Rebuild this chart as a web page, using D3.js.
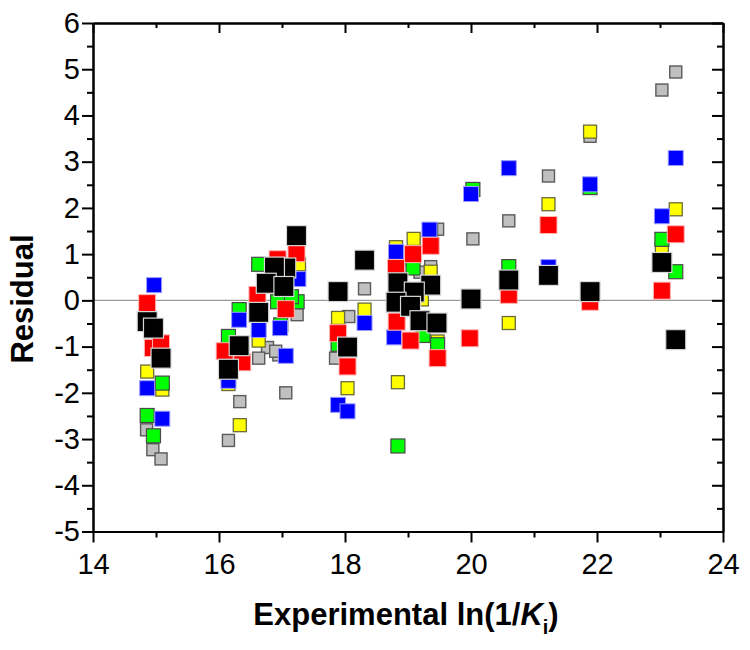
<!DOCTYPE html>
<html>
<head>
<meta charset="utf-8">
<script src="https://cdn.jsdelivr.net/npm/d3@7"></script>
<style>
  html, body { margin: 0; padding: 0; background: #fff; }
  svg { display: block; }
</style>
</head>
<body>
<svg id="chart" width="750" height="650"></svg>
<script>
// ---- Data ----
const xTicks = [14, 16, 18, 20, 22, 24];
const yTicks = [-5, -4, -3, -2, -1, 0, 1, 2, 3, 4, 5, 6];

const grayPoints = [
  [14.85, -2.80], [14.95, -3.23], [15.08, -3.43],
  [17.24, -0.31], [16.77, -1.02], [16.95, -1.18], [16.63, -1.25], [17.06, -2.00],
  [16.33, -2.19], [16.15, -3.03], [16.90, -1.10],
  [18.31, 0.25], [18.06, -0.35], [17.85, -1.25],
  [19.47, 1.54], [19.19, 0.61], [19.36, 0.73],
  [20.03, 1.33], [20.60, 1.72], [21.23, 2.69], [21.89, 3.55], [23.03, 4.55], [23.25, 4.94]
];
const yellowPoints = [
  [14.86, -1.54], [15.10, -1.93],
  [17.27, 0.78], [16.63, -0.87], [16.15, -1.81], [16.33, -2.70],
  [18.31, -0.20], [17.89, -0.38], [18.04, -1.90],
  [19.09, 1.33], [18.81, 1.15], [19.36, 0.62], [19.47, -0.89], [18.84, -1.77], [19.22, 0.02],
  [20.60, -0.49], [21.23, 2.08], [21.89, 3.65], [23.03, 1.10], [23.25, 1.97]
];
const greenPoints = [
  [15.10, -1.79], [14.86, -2.49], [14.96, -2.93],
  [16.63, 0.78], [17.24, -0.03], [16.93, -0.03], [16.32, -0.20], [16.98, -0.53], [16.15, -0.78], [17.15, 0.08],
  [17.89, -0.95],
  [19.36, 1.51], [18.84, 0.90], [19.08, 0.70], [19.24, -0.76], [19.47, -0.96], [18.84, -3.15],
  [20.03, 2.40], [20.60, 0.73], [21.89, 2.44], [23.03, 1.32], [23.25, 0.62]
];
const bluePoints = [
  [14.97, 0.33], [14.86, -1.90], [15.10, -2.56],
  [17.26, 0.46], [16.32, -0.42], [16.97, -0.60], [16.63, -0.64], [17.06, -1.20], [16.15, -1.74],
  [18.31, -0.49], [17.89, -2.26], [18.04, -2.40],
  [19.34, 1.53], [18.81, 1.05], [18.78, -0.80],
  [20.00, 2.30], [20.60, 2.86], [21.23, 0.72], [21.89, 2.51], [23.03, 1.82], [23.25, 3.08]
];
const redPoints = [
  [14.86, -0.06], [14.95, -1.03], [15.08, -0.93],
  [17.23, 1.02], [16.93, 0.89], [16.61, 0.12], [17.06, -0.19], [16.09, -1.10], [16.37, -1.34],
  [17.89, -0.71], [18.04, -1.43],
  [19.36, 1.18], [19.08, 1.00], [18.81, 0.70], [18.82, -0.46], [19.04, -0.87], [19.47, -1.25],
  [19.98, -0.82], [20.60, 0.12], [21.23, 1.63], [21.89, -0.03], [23.03, 0.21], [23.25, 1.43]
];
const blackPoints = [
  [14.86, -0.46], [14.96, -0.60], [15.08, -1.25],
  [17.23, 1.40], [17.06, 0.70], [16.88, 0.72], [16.75, 0.37], [17.03, 0.30], [16.63, -0.26], [16.32, -0.98], [16.15, -1.49],
  [18.31, 0.87], [17.89, 0.19], [18.04, -1.01],
  [18.84, 0.38], [19.36, 0.33], [19.10, 0.18], [18.81, -0.04], [19.04, -0.13], [19.19, -0.44], [19.46, -0.49],
  [20.00, 0.03], [20.60, 0.44], [21.23, 0.54], [21.89, 0.19], [23.03, 0.82], [23.25, -0.85]
];

// ---- Layout ----
const svg = d3.select("#chart");
const plotL = 93, plotR = 723, plotT = 23, plotB = 531.5;
const x = d3.scaleLinear().domain([14, 24]).range([plotL, plotR]);
const y = d3.scaleLinear().domain([-5, 6]).range([plotB, plotT]);
const FONT = "'Liberation Sans', Arial, sans-serif";

svg.append("rect").attr("width", 750).attr("height", 650).attr("fill", "#fff");

// zero line
svg.append("line")
  .attr("x1", plotL).attr("x2", plotR)
  .attr("y1", y(0)).attr("y2", y(0))
  .attr("stroke", "#9a9a9a").attr("stroke-width", 1.2);

// ---- Points ----
const seriesStyles = [
  { data: grayPoints,   size: 12, fill: "#c0c0c0", stroke: "#5a5a5a", sw: 1.4 },
  { data: yellowPoints, size: 13, fill: "#ffff00", stroke: "#6b6b3a", sw: 1.3 },
  { data: greenPoints,  size: 14, fill: "#00ff00", stroke: "#4a4a4a", sw: 1.2 },
  { data: bluePoints,   size: 15, fill: "#0000ff", stroke: "#9a9aff", sw: 1.0 },
  { data: redPoints,    size: 17, fill: "#ff0000", stroke: "#ffb4b4", sw: 1.0 },
  { data: blackPoints,  size: 20, fill: "#000000", stroke: "#d8d8d8", sw: 1.2 }
];
seriesStyles.forEach(s => {
  svg.append("g").selectAll("rect").data(s.data).join("rect")
    .attr("x", d => x(d[0]) - s.size / 2)
    .attr("y", d => y(d[1]) - s.size / 2)
    .attr("width", s.size).attr("height", s.size)
    .attr("fill", s.fill).attr("stroke", s.stroke).attr("stroke-width", s.sw);
});

// ---- Axes ----
function styleAxis(g) {
  g.selectAll(".domain").attr("stroke", "#000").attr("stroke-width", 2);
  g.selectAll(".tick line").attr("stroke", "#000").attr("stroke-width", 2);
  g.selectAll("text").attr("font-family", FONT).attr("font-size", 29).attr("fill", "#000");
}
const fmt = d => String(d);
const xMinor = d3.range(15, 24, 2);
const yMinor = d3.range(-4.5, 6, 1);

// bottom
svg.append("g").attr("transform", `translate(0,${plotB})`)
  .call(d3.axisBottom(x).tickValues(xTicks).tickFormat(fmt).tickSize(11).tickPadding(10.5).tickSizeOuter(0))
  .call(styleAxis);
svg.append("g").attr("transform", `translate(0,${plotB})`)
  .call(d3.axisBottom(x).tickValues(xMinor).tickFormat("").tickSize(6).tickSizeOuter(0))
  .call(styleAxis);
// top (inward)
svg.append("g").attr("transform", `translate(0,${plotT})`)
  .call(d3.axisBottom(x).tickValues(xTicks).tickFormat("").tickSize(10).tickSizeOuter(0))
  .call(styleAxis);
svg.append("g").attr("transform", `translate(0,${plotT})`)
  .call(d3.axisBottom(x).tickValues(xMinor).tickFormat("").tickSize(5).tickSizeOuter(0))
  .call(styleAxis);
// left
svg.append("g").attr("transform", `translate(${plotL},0)`)
  .call(d3.axisLeft(y).tickValues(yTicks).tickFormat(fmt).tickSize(11).tickPadding(2).tickSizeOuter(0))
  .call(styleAxis);
svg.append("g").attr("transform", `translate(${plotL},0)`)
  .call(d3.axisLeft(y).tickValues(yMinor).tickFormat("").tickSize(6).tickSizeOuter(0))
  .call(styleAxis);
// right (inward)
svg.append("g").attr("transform", `translate(${plotR},0)`)
  .call(d3.axisLeft(y).tickValues(yTicks).tickFormat("").tickSize(11).tickSizeOuter(0))
  .call(styleAxis);
svg.append("g").attr("transform", `translate(${plotR},0)`)
  .call(d3.axisLeft(y).tickValues(yMinor).tickFormat("").tickSize(6).tickSizeOuter(0))
  .call(styleAxis);

// ---- Titles ----
const xt = svg.append("text")
  .attr("x", (plotL + plotR) / 2 - 2).attr("y", 625)
  .attr("text-anchor", "middle")
  .attr("font-family", FONT).attr("font-weight", "bold").attr("font-size", 31);
xt.append("tspan").text("Experimental ln(1/");
xt.append("tspan").attr("font-style", "italic").text("K");
xt.append("tspan").attr("font-size", 20).attr("dy", 9).text("i");
xt.append("tspan").attr("dy", -9).text(")");

svg.append("text")
  .attr("transform", "translate(33,299) rotate(-90)")
  .attr("text-anchor", "middle")
  .attr("font-family", FONT).attr("font-weight", "bold").attr("font-size", 31)
  .text("Residual");
</script>
</body>
</html>
